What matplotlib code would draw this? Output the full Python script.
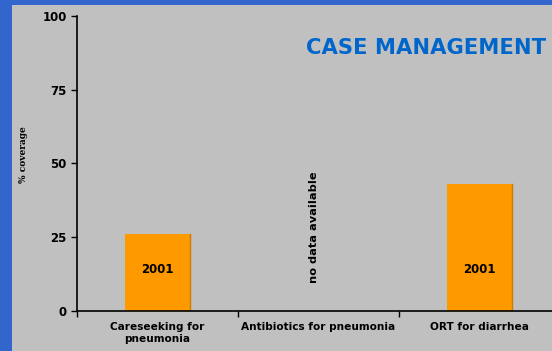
import matplotlib.pyplot as plt
from matplotlib.patches import Rectangle

categories = ["Careseeking for\npneumonia", "Antibiotics for pneumonia", "ORT for diarrhea"]
coverage = [26, None, 43]
bar_labels = ["2001", "", "2001"]

W, H = 552, 351
fig = plt.figure(figsize=(W / 100, H / 100), dpi=100, facecolor="#3366cc")
fig.patches.append(Rectangle((12 / W, 0), 1, 1 - 5 / H, transform=fig.transFigure,
                             facecolor="#c0c0c0", edgecolor="none", zorder=-10))

ax = fig.add_axes([77 / W, (H - 310.7) / H, 483 / W, (310.7 - 16) / H])
ax.set_facecolor("none")

x = list(range(len(categories)))
for i, v in enumerate(coverage):
    if v is None:
        ax.text(i - 0.03, 28.4, "no data available", rotation=90, ha="center", va="center",
                fontsize=8.2, fontweight="bold")
        continue
    ax.bar(i, v, width=0.4, color="#ff9900", edgecolor="none")
    ax.plot([i + 0.2, i + 0.2], [0, v], color="#cc7a00", lw=1)
    ax.text(i, 14, bar_labels[i], ha="center", va="center", fontsize=8.5, fontweight="bold")

ax.set_xlim(-0.5, 2.5)
ax.set_ylim(0, 100)
ax.set_yticks([0, 25, 50, 75, 100])
ax.set_xticks(x)
ax.set_xticklabels(categories, fontsize=7.6, fontweight="bold", linespacing=1.3)
ax.set_xticks([-0.5, 0.5, 1.5], minor=True)
ax.tick_params(axis="x", which="major", length=0, pad=8)
ax.tick_params(axis="x", which="minor", length=4, width=1)
ax.tick_params(axis="y", length=4, width=1, labelsize=8.5)
for lab in ax.get_yticklabels():
    lab.set_fontweight("bold")
for s in ["top", "right"]:
    ax.spines[s].set_visible(False)
ax.spines["left"].set_linewidth(1.2)
ax.spines["bottom"].set_linewidth(1.2)

fig.text(23 / W, 1 - 155 / H, "% coverage", rotation=90, ha="center", va="center",
         fontsize=6.5, fontweight="bold", family="DejaVu Serif")
fig.text(546 / W, 1 - 48 / H, "CASE MANAGEMENT", ha="right", va="center",
         fontsize=15.2, fontweight="bold", color="#0066cc")

fig.savefig("out.png", dpi=100, facecolor=fig.get_facecolor())
